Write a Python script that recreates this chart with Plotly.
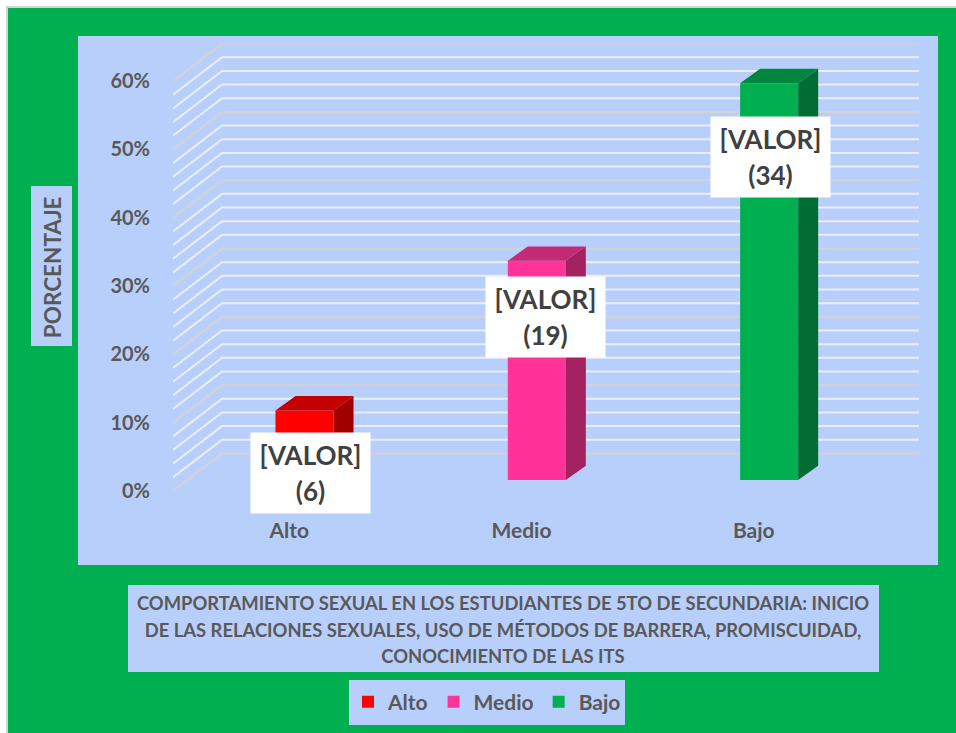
import plotly.graph_objects as go

W, H = 956, 733

categories = ["Alto", "Medio", "Bajo"]
values = [10.2, 32.1, 58.1]
counts = [6, 19, 34]
y_ticks = [0, 10, 20, 30, 40, 50, 60]
y_ticklabels = ["0%", "10%", "20%", "30%", "40%", "50%", "60%"]
grid_levels = [0, 2, 4, 6, 8, 10, 12, 14, 16, 18, 20, 22, 24, 26, 28, 30, 32, 34, 36, 38, 40,
               42, 44, 46, 48, 50, 52, 54, 56, 58, 60]
front_colors = ["#FF0000", "#FF3399", "#00B050"]
top_colors = ["#C40000", "#C52A75", "#00863D"]
side_colors = ["#A00000", "#A3225F", "#006E33"]

PANEL = "#B8CFFC"
GREEN = "#00B050"
FONT = "Lato"
TEXT = "#595959"

# fake 3D: how far the back wall and the bars sit from the front plane
WALL_DX, WALL_DY = 0.211, 5.5
BAR_DX, BAR_DY = 0.066, 1.6
DEPTH_DX, DEPTH_DY = 0.086, 2.1
BAR_W = 0.25


def px(x):
    return x / W


def py(y):
    return 1 - y / H


def panel(x0, y0, x1, y1, color=PANEL, line=None):
    return dict(
        type="rect", xref="paper", yref="paper", layer="below",
        x0=px(x0), x1=px(x1), y0=py(y0), y1=py(y1),
        fillcolor=color, line=dict(width=0) if line is None else line,
    )


shapes = [
    panel(7, 7, 960, 740, GREEN, dict(color="#D4D4D4", width=2)),
    panel(78, 36, 938, 565),
    panel(31, 186, 72, 346),
    panel(128, 585, 879, 672),
    panel(349, 680, 625, 725),
]

# walls drawn as shapes so they stay behind the bars
x_left, x_right = -0.5, 2.5
for level in grid_levels:
    major = level % 10 == 0
    color = "#D2D2D2" if major else "#E9EEF9"
    shapes.append(dict(
        type="path", xref="x", yref="y", layer="below",
        path=f"M {x_left} {level} L {x_left + WALL_DX} {level + WALL_DY} L {x_right + WALL_DX} {level + WALL_DY}",
        line=dict(color=color, width=2),
    ))

fig = go.Figure()

for i, cat in enumerate(categories):
    xc = i + BAR_DX
    fig.add_trace(go.Bar(
        x=[xc], y=[values[i]], base=BAR_DY, width=BAR_W, name=cat,
        marker=dict(color=front_colors[i], line=dict(width=0)),
    ))

for i, cat in enumerate(categories):
    x0 = i + BAR_DX - BAR_W / 2
    x1 = x0 + BAR_W
    bottom = BAR_DY
    top = BAR_DY + values[i]
    # top face
    fig.add_trace(go.Scatter(
        x=[x0, x1, x1 + DEPTH_DX, x0 + DEPTH_DX, x0],
        y=[top, top, top + DEPTH_DY, top + DEPTH_DY, top],
        mode="lines", fill="toself", fillcolor=top_colors[i],
        line=dict(width=0), showlegend=False, hoverinfo="skip",
    ))
    # side face
    fig.add_trace(go.Scatter(
        x=[x1, x1 + DEPTH_DX, x1 + DEPTH_DX, x1, x1],
        y=[bottom, bottom + DEPTH_DY, top + DEPTH_DY, top, bottom],
        mode="lines", fill="toself", fillcolor=side_colors[i],
        line=dict(width=0), showlegend=False, hoverinfo="skip",
    ))


def spaced(lines, size):
    # line pitch follows the outer font size, the spans set the glyph size
    return "<br>".join(f'<span style="font-size:{size}px">{t}</span>' for t in lines)


label_centers = [(310.5, 473), (545.5, 317), (770.5, 157)]
annotations = [
    dict(
        x=px(cx), y=py(cy), xref="paper", yref="paper", showarrow=False,
        xanchor="center", yanchor="middle",
        text=spaced(["[VALOR]", f"({n})"], 26), width=117, height=78, bgcolor="#FFFFFF",
        align="center", valign="middle",
        font=dict(family=FONT, size=27, color="#404040", weight="bold"),
    )
    for (cx, cy), n in zip(label_centers, counts)
]

title_lines = [
    "COMPORTAMIENTO SEXUAL EN LOS ESTUDIANTES DE 5TO DE SECUNDARIA: INICIO",
    "DE LAS RELACIONES SEXUALES, USO DE MÉTODOS DE BARRERA, PROMISCUIDAD,",
    "CONOCIMIENTO DE LAS ITS",
]

fig.update_layout(
    width=W,
    height=H,
    margin=dict(l=0, r=0, t=0, b=0, autoexpand=False),
    paper_bgcolor="#FFFFFF",
    plot_bgcolor="rgba(0,0,0,0)",
    font=dict(family=FONT, color=TEXT),
    barmode="overlay",
    shapes=shapes,
    annotations=annotations,
    title=dict(
        text=spaced(title_lines, 18.4),
        x=px(503), y=py(610), xanchor="center", yanchor="middle",
        font=dict(family=FONT, size=20.4, color=TEXT, weight="bold"),
    ),
    legend=dict(
        orientation="h", x=px(487), y=py(702), xanchor="center", yanchor="middle",
        bgcolor="rgba(0,0,0,0)", font=dict(family=FONT, size=21, color=TEXT, weight="bold"),
    ),
    xaxis=dict(
        domain=[px(173), px(919)],
        range=[x_left, x_right + WALL_DX],
        tickvals=[0, 1, 2],
        ticktext=categories,
        ticks="outside", ticklen=21, tickcolor="rgba(0,0,0,0)",
        showgrid=False, zeroline=False, showline=False,
        tickfont=dict(family=FONT, size=21, color=TEXT, weight="bold"),
    ),
    yaxis=dict(
        domain=[py(491), py(43.6)],
        range=[0, 65.5],
        tickvals=y_ticks,
        ticktext=y_ticklabels,
        ticks="outside", ticklen=18, tickcolor="rgba(0,0,0,0)",
        showgrid=False, zeroline=False, showline=False,
        tickfont=dict(family=FONT, size=20, color=TEXT, weight="bold"),
        title=dict(
            text="PORCENTAJE", standoff=42,
            font=dict(family=FONT, size=22.5, color=TEXT, weight="bold"),
        ),
    ),
)

fig.write_html("out.html", config=dict(displayModeBar=False),
               post_script="document.body.style.margin='0';")
